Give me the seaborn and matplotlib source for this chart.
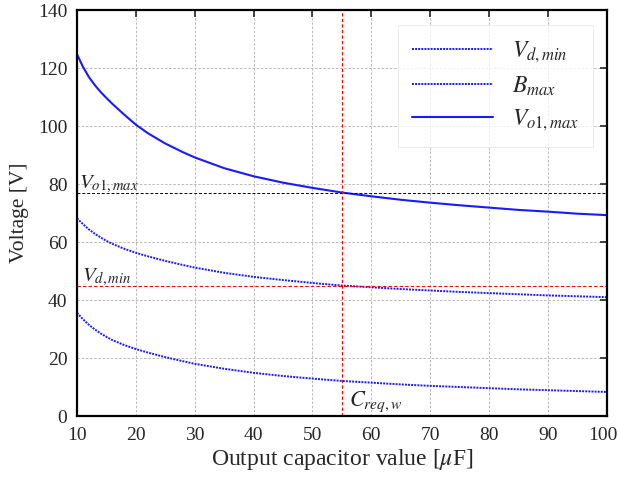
import matplotlib
matplotlib.use("Agg")
import matplotlib.pyplot as plt
import matplotlib.transforms as mtransforms
import seaborn as sns
import pandas as pd

# values
cap = [10, 11, 12, 13, 14, 15, 16, 18, 20, 22, 25, 28, 30, 35, 40, 45,
       50, 55, 60, 65, 70, 75, 80, 85, 90, 95, 100]
vo1_max = [124.8, 120.5, 117.0, 114.2, 111.8, 109.7, 107.7, 104.0, 100.5, 97.6,
           94.0, 91.0, 89.2, 85.5, 82.7, 80.5, 78.7, 77.1, 75.8, 74.6, 73.6,
           72.7, 71.9, 71.1, 70.5, 69.8, 69.3]
vd_min = [68.2, 66.2, 64.4, 62.9, 61.6, 60.4, 59.4, 57.7, 56.3, 55.1, 53.5,
          52.1, 51.2, 49.4, 48.0, 46.9, 45.9, 45.0, 44.4, 43.8, 43.3, 42.8,
          42.4, 42.0, 41.6, 41.3, 41.0]
b_max = [35.6, 33.4, 31.5, 29.9, 28.5, 27.3, 26.2, 24.5, 23.1, 21.9, 20.3,
         18.9, 18.0, 16.3, 14.9, 13.8, 12.9, 12.1, 11.5, 10.9, 10.4, 10.0,
         9.6, 9.2, 8.9, 8.6, 8.3]

c_req = 55
vo1_lim = 77
vd_lim = 44.8

sns.set_style("white")
plt.rcParams["font.family"] = ["Liberation Serif", "DejaVu Serif"]
plt.rcParams["mathtext.fontset"] = "stix"

df = pd.DataFrame({"C": cap, "vd": vd_min, "b": b_max, "vo": vo1_max})

fig = plt.figure(figsize=(6.18, 4.78), dpi=100)
ax = fig.add_axes([0.1246, 0.1297, 0.857, 0.849])

blue = "#1a1aff"
sns.lineplot(data=df, x="C", y="vd", ax=ax, color=blue, lw=1.4, ls=(0, (1, 0.6)),
             label=r"$V_{d,min}$")
sns.lineplot(data=df, x="C", y="b", ax=ax, color=blue, lw=1.4, ls=(0, (1, 0.6)),
             label=r"$B_{max}$")
sns.lineplot(data=df, x="C", y="vo", ax=ax, color=blue, lw=1.5, ls="-",
             label=r"$V_{o1,max}$")

ax.axhline(vo1_lim, color="black", lw=0.7, ls=(0, (3, 2)))
ax.axhline(vd_lim, color="red", lw=0.8, ls=(0, (3, 2)))
ax.axvline(c_req, color="red", lw=0.8, ls=(0, (3, 2)))

ax.text(10.4, 78.5, r"$V_{o1,max}$", fontsize=15)
ax.text(10.8, 46.5, r"$V_{d,min}$", fontsize=15)
ax.text(56.2, 3.5, r"$C_{req,w}$", fontsize=16)

ax.set_xlim(10, 100)
ax.set_ylim(0, 140)
ax.set_xticks(range(10, 101, 10))
ax.set_yticks(range(0, 141, 20))
ax.grid(True, color="#b0b0b0", ls=(0, (3, 2)), lw=0.6)
ax.tick_params(direction="in", labelsize=14, length=5, width=1.2, top=True, right=True)
ax.tick_params(axis="x", pad=8)
ax.tick_params(axis="y", pad=7)
for s in ax.spines.values():
    s.set_linewidth(1.6)
    s.set_color("black")

# nudge the last x tick label so it stays inside the figure
last = ax.get_xticklabels()[-1]
last.set_transform(last.get_transform() +
                   mtransforms.ScaledTranslation(-4 / 100, 0, fig.dpi_scale_trans))

ax.set_xlabel(r"Output capacitor value [$\mu$F]", fontsize=17, labelpad=2)
ax.set_ylabel("Voltage [V]", fontsize=15.5, labelpad=6)

leg = ax.legend(loc="upper right", fontsize=17, frameon=True, fancybox=False,
                edgecolor="#e8e8e8", handlelength=3.4, labelspacing=0.42,
                borderpad=0.6, borderaxespad=0, bbox_to_anchor=(0.974, 0.963))
leg.get_frame().set_linewidth(0.8)

fig.savefig("out.png", dpi=100)
